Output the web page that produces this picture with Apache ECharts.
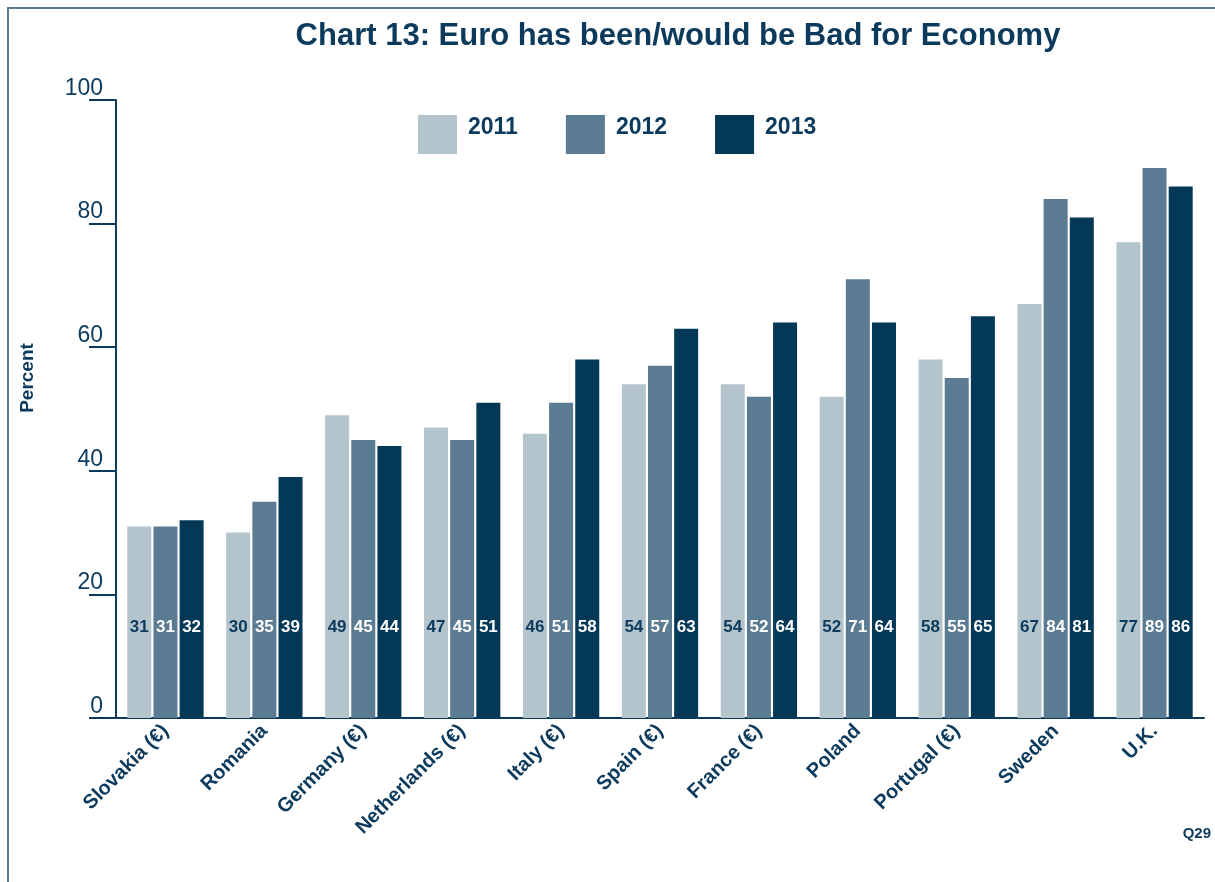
<!DOCTYPE html>
<html>
<head>
<meta charset="utf-8">
<title>Chart 13</title>
<script src="https://cdn.jsdelivr.net/npm/echarts@6/dist/echarts.min.js"></script>
<style>
  html, body { margin: 0; padding: 0; background: #fff; }
  #chart { width: 1215px; height: 882px; }
</style>
</head>
<body>
<div id="chart"></div>
<script>
const countries = ['Slovakia (€)', 'Romania', 'Germany (€)', 'Netherlands (€)', 'Italy (€)',
  'Spain (€)', 'France (€)', 'Poland', 'Portugal (€)', 'Sweden', 'U.K.']
const years = ['2011', '2012', '2013']
const values2011 = [31, 30, 49, 47, 46, 54, 54, 52, 58, 67, 77]
const values2012 = [31, 35, 45, 45, 51, 57, 52, 71, 55, 84, 89]
const values2013 = [32, 39, 44, 51, 58, 63, 64, 64, 65, 81, 86]
const yTicks = [0, 20, 40, 60, 80, 100]

const navy = '#0b3a5c'
const barColors = ['#b4c4cd', '#5a7b91', '#033857']
const labelColors = [navy, '#ffffff', '#ffffff']
const font = '"Liberation Sans", Arial, sans-serif'

const chart = echarts.init(document.getElementById('chart'))

const makeSeries = (name, data, i) => ({
  name,
  type: 'bar',
  data,
  barWidth: 24,
  barGap: '9%',
  itemStyle: { color: barColors[i] },
  label: {
    show: true,
    position: 'insideBottom',
    distance: 82,
    color: labelColors[i],
    fontFamily: font,
    fontSize: 17,
    fontWeight: 'bold'
  }
})

chart.setOption({
  animation: false,
  title: {
    text: 'Chart 13: Euro has been/would be Bad for Economy',
    left: 673,
    textAlign: 'center',
    top: 16,
    textStyle: {
      color: navy,
      fontFamily: font,
      fontSize: 31,
      fontWeight: 'bold'
    }
  },
  legend: {
    data: years,
    left: 413,
    top: 110,
    itemWidth: 39,
    itemHeight: 39,
    itemGap: 48,
    icon: 'rect',
    formatter: '{y|{name}}',
    textStyle: {
      rich: {
        y: {
          color: navy,
          fontFamily: font,
          fontSize: 23,
          fontWeight: 'bold',
          padding: [0, 0, 13, 6]
        }
      }
    }
  },
  grid: {
    left: 116,
    right: 11,
    top: 100,
    bottom: 164
  },
  xAxis: {
    type: 'category',
    data: countries,
    axisLine: { lineStyle: { color: navy, width: 2 } },
    axisTick: { show: false },
    axisLabel: {
      rotate: 45,
      interval: 0,
      margin: 10,
      color: navy,
      fontFamily: font,
      fontSize: 20,
      fontWeight: 'bold'
    }
  },
  yAxis: {
    type: 'value',
    min: 0,
    max: 100,
    interval: 20,
    axisLine: { show: true, lineStyle: { color: navy, width: 2 } },
    axisTick: { show: true, length: 27, lineStyle: { color: navy, width: 2 } },
    splitLine: { show: false },
    axisLabel: {
      margin: 13,
      verticalAlign: 'bottom',
      color: navy,
      fontFamily: font,
      fontSize: 23,
      formatter: v => (yTicks.includes(v) ? String(v) : '')
    }
  },
  graphic: [
    {
      type: 'line',
      shape: { x1: 7, y1: 8, x2: 1215, y2: 8 },
      style: { stroke: '#5a7b8e', lineWidth: 2 }
    },
    {
      type: 'line',
      shape: { x1: 8, y1: 7, x2: 8, y2: 882 },
      style: { stroke: '#5a7b8e', lineWidth: 2 }
    },
    {
      type: 'text',
      x: 28,
      y: 378,
      rotation: Math.PI / 2,
      style: {
        text: 'Percent',
        fill: navy,
        font: 'bold 19px ' + font,
        align: 'center',
        verticalAlign: 'middle'
      }
    },
    {
      type: 'text',
      right: 4,
      top: 826,
      style: {
        text: 'Q29',
        fill: navy,
        font: 'bold 15px ' + font
      }
    }
  ],
  series: [
    makeSeries(years[0], values2011, 0),
    makeSeries(years[1], values2012, 1),
    makeSeries(years[2], values2013, 2)
  ]
})
</script>
</body>
</html>
